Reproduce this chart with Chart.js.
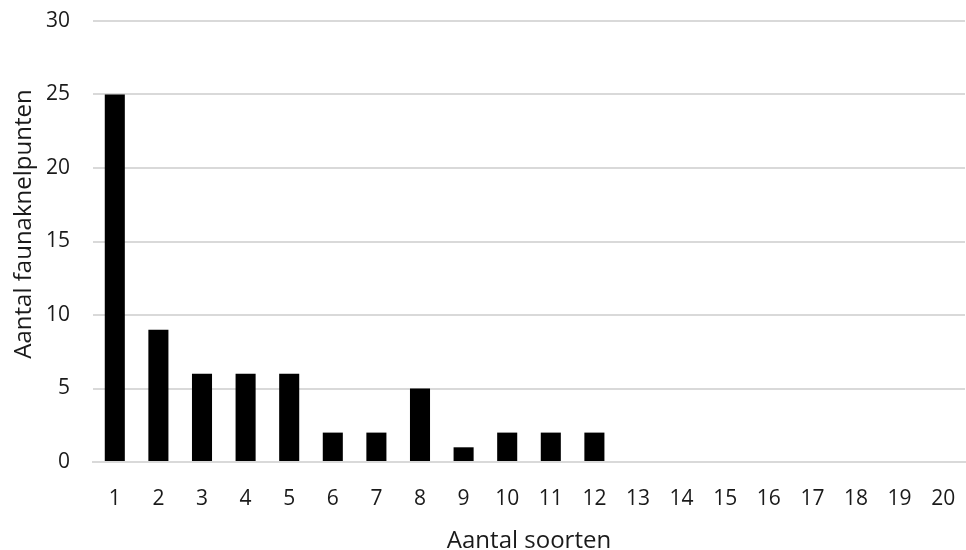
<!DOCTYPE html>
<html>
<head>
<meta charset="utf-8">
<script src="https://cdn.jsdelivr.net/npm/chart.js@4"></script>
<style>
html,body{margin:0;padding:0;background:#fff;}
#wrap{width:966px;height:550px;}
</style>
</head>
<body>
<div id="wrap"><canvas id="c" width="966" height="550"></canvas></div>
<script>
const categories = ["1","2","3","4","5","6","7","8","9","10","11","12","13","14","15","16","17","18","19","20"];
const counts = [25, 9, 6, 6, 6, 2, 2, 5, 1, 2, 2, 2, 0, 0, 0, 0, 0, 0, 0, 0];
const yTicks = [0, 5, 10, 15, 20, 25, 30];
const yTitle = "Aantal faunaknelpunten";
const xTitle = "Aantal soorten";

const FONT = "'Open Sans', sans-serif";
const TEXT = '#1a1a1a';

const yTitlePlugin = {
  id: 'yTitle',
  afterDraw(chart) {
    const ctx = chart.ctx;
    ctx.save();
    ctx.translate(24, 224);
    ctx.rotate(-Math.PI / 2);
    ctx.font = "24px " + FONT;
    ctx.fillStyle = TEXT;
    ctx.textAlign = 'center';
    ctx.textBaseline = 'middle';
    ctx.fillText(yTitle, 0, 0);
    ctx.restore();
  }
};

new Chart(document.getElementById('c'), {
  type: 'bar',
  data: {
    labels: categories,
    datasets: [{
      data: counts,
      backgroundColor: '#000000',
      borderWidth: 0,
      barPercentage: 0.46,
      categoryPercentage: 1.0
    }]
  },
  plugins: [yTitlePlugin],
  options: {
    responsive: false,
    animation: false,
    devicePixelRatio: 1,
    layout: { padding: { top: 21, right: 1, bottom: 0, left: 0 } },
    plugins: { legend: { display: false }, tooltip: { enabled: false } },
    scales: {
      x: {
        grid: { display: false, drawTicks: true, tickLength: 24, tickColor: 'rgba(0,0,0,0)' },
        border: { display: true, color: '#d9d9d9', width: 2 },
        ticks: { color: TEXT, font: { family: FONT, size: 21 }, padding: 0, maxRotation: 0, autoSkip: false },
        title: { display: true, text: xTitle, color: TEXT, font: { family: FONT, size: 24, lineHeight: 1 }, padding: { top: 0, bottom: -3 } },
        afterFit: s => { s.height = 88; }
      },
      y: {
        min: 0, max: 30,
        afterBuildTicks: s => { s.ticks = yTicks.map(v => ({ value: v })); },
        ticks: { color: TEXT, font: { family: FONT, size: 21 }, padding: 3 },
        grid: { color: '#d9d9d9', lineWidth: 2, drawTicks: true, tickLength: 20, tickColor: 'rgba(0,0,0,0)' },
        border: { display: false },
        title: { display: false, text: yTitle },
        afterFit: s => { s.width = 93; }
      }
    }
  }
});
</script>
</body>
</html>
